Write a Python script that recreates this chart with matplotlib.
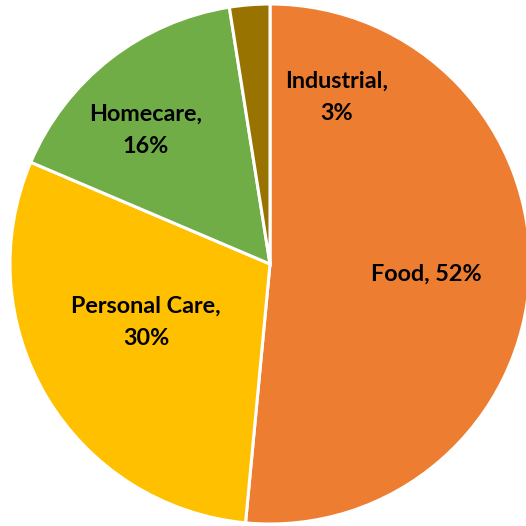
import matplotlib.pyplot as plt

# Data
categories = ['Food', 'Personal Care', 'Homecare', 'Industrial']
shares = [51.5, 29.9, 16.1, 2.5]
pct_labels = ['52%', '30%', '16%', '3%']
colors = ['#ED7D31', '#FFC000', '#70AD47', '#997300']

# label text: category and percentage, one or two lines
label_text = ['Food, 52%', 'Personal Care,\n30%', 'Homecare,\n16%', 'Industrial,\n3%']
label_xy = [(0.60, -0.04), (-0.477, -0.223), (-0.477, 0.515), (0.258, 0.642)]

fig = plt.figure(figsize=(5.26, 5.26), dpi=100)
cx, cy, r = 270 / 526, 1 - 264 / 526, 260 / 526
ax = fig.add_axes([cx - r, cy - r, 2 * r, 2 * r])

wedges, _ = ax.pie(shares, colors=colors, startangle=90, counterclock=False,
                   radius=1, wedgeprops=dict(edgecolor='white', linewidth=2.2))
for w in wedges:
    w.set_clip_on(False)

for txt, (x, y) in zip(label_text, label_xy):
    ax.text(x, y, txt, ha='center', va='center', fontsize=16.8,
            fontweight='bold', family='Lato', linespacing=1.65, color='black')

ax.set_xlim(-1, 1)
ax.set_ylim(-1, 1)
ax.set_aspect('equal')
ax.axis('off')

plt.savefig('out.png', dpi=100)
